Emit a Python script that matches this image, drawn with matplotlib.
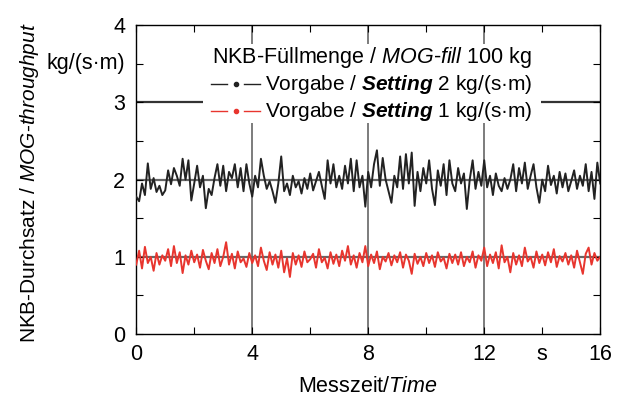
import matplotlib.pyplot as plt
from matplotlib.patches import Rectangle
import numpy as np

plt.rcParams['font.family'] = ['Liberation Sans', 'DejaVu Sans']
plt.rcParams['mathtext.fontset'] = 'custom'
plt.rcParams['mathtext.rm'] = 'Liberation Sans'
plt.rcParams['mathtext.it'] = 'Liberation Sans:italic'
plt.rcParams['mathtext.bf'] = 'Liberation Sans:bold'
plt.rcParams['mathtext.bfit'] = 'Liberation Sans:bold:italic'

# Zeitachse: 0..16 s, Abtastung 0.1 s
zeit = np.arange(161) * 0.1

# Durchsatz, Vorgabe 2 kg/(s*m)  (Werte aus der Grafik geschaetzt)
durchsatz_2 = [
    1.78, 1.72, 1.95, 1.80, 2.21, 1.88, 2.02, 1.84, 1.92, 1.80,
    1.86, 2.12, 1.94, 2.15, 2.05, 1.92, 2.27, 2.00, 2.25, 1.73,
    1.95, 2.18, 1.90, 2.05, 1.63, 1.88, 1.80, 2.02, 2.20, 1.92,
    2.18, 1.85, 2.10, 2.02, 2.20, 1.90, 2.15, 1.85, 2.20, 1.95,
    1.78, 2.05, 1.90, 2.27, 2.05, 1.88, 1.98, 1.85, 1.70, 1.95,
    2.30, 1.85, 1.95, 1.80, 2.05, 1.90, 1.98, 1.82, 2.02, 1.88,
    2.08, 1.86, 1.98, 2.10, 1.92, 1.75, 2.25, 1.95, 2.20, 1.90,
    2.05, 1.88, 2.18, 1.95, 2.27, 1.85, 2.25, 1.90, 2.05, 1.65,
    2.10, 1.90, 2.20, 2.38, 1.92, 2.28, 2.00, 1.85, 1.70, 2.05,
    1.90, 2.30, 1.88, 2.33, 1.95, 2.35, 1.66, 2.10, 1.85, 2.15,
    1.95, 2.25, 1.88, 1.67, 2.12, 1.92, 2.20, 1.80, 2.25, 1.95,
    1.85, 2.15, 1.95, 2.08, 1.62, 2.00, 2.25, 1.88, 2.10, 1.92,
    2.25, 1.90, 2.05, 1.80, 2.08, 1.92, 1.85, 2.02, 1.88, 2.00,
    2.20, 1.85, 2.15, 1.95, 2.22, 1.88, 2.05, 2.20, 1.90, 1.70,
    2.00, 1.85, 2.18, 1.93, 2.05, 1.82, 2.10, 1.90, 2.08, 1.85,
    1.98, 2.12, 1.88, 2.05, 1.92, 2.20, 1.85, 2.10, 1.75, 2.22,
    1.95]

# Durchsatz, Vorgabe 1 kg/(s*m)
durchsatz_1 = [
    0.90, 1.08, 0.85, 1.13, 0.92, 1.00, 0.82, 1.05, 0.90, 1.02,
    0.95, 1.10, 0.88, 1.14, 0.92, 1.06, 0.79, 1.02, 0.90, 1.08,
    0.93, 1.03, 0.86, 1.09, 0.95, 0.84, 1.05, 0.92, 1.10, 0.88,
    1.00, 1.19, 0.90, 1.04, 0.85, 1.07, 0.93, 0.98, 0.87, 1.05,
    0.92, 1.02, 0.88, 1.12, 0.95, 0.83, 1.06, 0.90, 1.03, 0.86,
    1.08, 0.80, 0.98, 0.74, 1.05, 0.90, 1.02, 0.87, 1.07, 0.93,
    0.97, 1.04, 0.86, 1.10, 0.93, 0.99, 0.85, 1.06, 0.91, 1.03,
    0.88, 1.08, 0.95, 1.14, 0.90, 1.02, 0.86, 1.05, 0.93, 1.14,
    0.88, 1.03, 0.92, 1.07, 0.84, 1.00, 0.94, 1.05, 0.89, 1.02,
    0.93, 1.06, 0.86, 1.03, 0.95, 0.78, 1.04, 0.91, 1.00, 0.88,
    1.05, 0.92, 1.02, 0.87, 1.06, 0.94, 0.99, 0.85, 1.04, 0.92,
    1.03, 0.90, 1.06, 0.88, 1.00, 0.93, 1.07, 0.86, 1.02, 0.95,
    1.12, 0.88, 1.03, 0.92, 1.06, 0.85, 1.15, 0.93, 1.00, 0.80,
    1.05, 0.90, 1.02, 0.88, 1.12, 0.94, 1.00, 0.86, 1.07, 0.92,
    1.03, 0.89, 1.06, 0.93, 1.10, 0.87, 1.01, 0.94, 1.05, 0.90,
    1.02, 0.86, 1.08, 0.93, 0.78, 1.04, 1.12, 0.90, 1.05, 0.95,
    1.00]

x_ticks = [0, 4, 8, 12, 14, 16]
x_labels = ['0', '4', '8', '12', 's', '16']
y_ticks = [0, 1, 2, 3, 4]

schwarz = '#222222'
rot = '#e8352e'
gitter = '#666666'
fs = 15.5

fig = plt.figure(figsize=(6.22, 4.05), dpi=100)
ax = fig.add_axes([0.219, 0.175, 0.746, 0.763])

# Gitterlinien
for xv in [4, 8, 12]:
    ax.axvline(xv, color=gitter, lw=1.2, zorder=1)
for yv in [1, 2, 3]:
    ax.axhline(yv, color=gitter if yv != 3 else '#333333', lw=1.6, zorder=1)

ax.plot(zeit, durchsatz_2, color=schwarz, lw=1.4, zorder=3)
ax.plot(zeit, durchsatz_1, color=rot, lw=1.4, zorder=3)

ax.set_xlim(0, 16)
ax.set_ylim(0, 4)
ax.set_xticks(x_ticks)
ax.set_xticklabels(x_labels)
ax.set_xticks([2, 6, 10], minor=True)
ax.set_yticks(y_ticks)
ax.set_yticks([0.5, 1.5, 2.5, 3.5], minor=True)
ax.tick_params(which='both', direction='in', top=True, right=True,
               length=5, width=0.8, labelsize=fs)
ax.tick_params(axis='x', pad=7)
ax.tick_params(axis='y', pad=8)
for s in ax.spines.values():
    s.set_linewidth(1.0)

ax.set_xlabel('Messzeit/$\\mathit{Time}$', fontsize=fs)
ax.xaxis.set_label_coords(0.5, -0.135)
ax.set_ylabel('NKB-Durchsatz / $\\mathit{MOG}$-$\\mathit{throughput}$',
              fontsize=15)
ax.yaxis.set_label_coords(-0.205, 0.49)
ax.text(-0.024, 0.877, 'kg/(s·m)', transform=ax.transAxes, fontsize=fs,
        ha='right', va='center')

# Legende (von Hand, weisser Hintergrund ueber dem Gitter)
ax.add_patch(Rectangle((0.144, 0.683), 0.729, 0.256, transform=ax.transAxes,
                       facecolor='white', edgecolor='none', zorder=4))
ax.text(0.853, 0.896, 'NKB-Füllmenge / $\\mathit{MOG}$-$\\mathit{fill}$ 100 kg',
        transform=ax.transAxes, ha='right', va='center', fontsize=fs, zorder=5)
eintraege = [(0.808, schwarz, 'Vorgabe / $\\mathbfit{Setting}$ 2 kg/(s·m)'),
             (0.722, rot, 'Vorgabe / $\\mathbfit{Setting}$ 1 kg/(s·m)')]
for yy, farbe, txt in eintraege:
    ax.plot([0.162, 0.196], [yy, yy], color=farbe, lw=1.0,
            transform=ax.transAxes, clip_on=False, zorder=5)
    ax.plot([0.232, 0.267], [yy, yy], color=farbe, lw=1.0,
            transform=ax.transAxes, clip_on=False, zorder=5)
    ax.plot([0.214], [yy], 'o', color=farbe, markersize=3,
            transform=ax.transAxes, clip_on=False, zorder=5)
    ax.text(0.853, yy, txt, transform=ax.transAxes, ha='right', va='center',
            fontsize=15, zorder=5)

plt.savefig('out.png', dpi=100)
